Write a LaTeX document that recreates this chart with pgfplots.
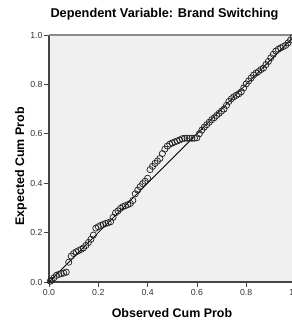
\documentclass[border=0pt]{standalone}
\usepackage{pgfplots}
\pgfplotsset{compat=1.18}
\usepackage{fontspec}
\setmainfont{Liberation Sans}
\definecolor{bgc}{HTML}{F0F0F0}
\definecolor{axc}{HTML}{444444}
\definecolor{topc}{HTML}{8A8A8A}
\definecolor{tickc}{HTML}{333333}
\begin{document}
\begin{tikzpicture}[x=1bp,y=1bp]
\begin{axis}[
  at={(49bp,40bp)}, anchor=south west,
  scale only axis, width=246.5bp, height=247bp,
  xmin=0, xmax=1, ymin=0, ymax=1,
  axis x line*=bottom, axis y line*=left,
  axis line style={axc, line width=1.2bp, -},
  axis background/.style={fill=bgc},
  xtick={0,0.2,0.4,0.6,0.8,1.0},
  ytick={0,0.2,0.4,0.6,0.8,1.0},
  xticklabels={0.0,0.2,0.4,0.6,0.8,1.0},
  yticklabels={0.0,0.2,0.4,0.6,0.8,1.0},
  tick align=outside, major tick length=5bp,
  tick style={axc, line width=0.8bp},
  /pgf/number format/assume math mode=true,
  tick label style={font=\fontsize{8.8}{10}\selectfont, text=tickc},
  xticklabel style={yshift=1bp},
  yticklabel style={xshift=2bp},
  clip=false,
]
\draw[topc, line width=1.2bp] (rel axis cs:0,1) -- (rel axis cs:1,1);
\addplot[black, line width=0.8bp, no marks] coordinates {(0,0) (1,1)};
\addplot[only marks, mark=o, mark size=3.1bp, mark options={black!88, line width=0.7bp}] coordinates {
(0.005,0.003) (0.01,0.007) (0.02,0.017) (0.03,0.027) (0.04,0.031) (0.05,0.034) (0.06,0.036) (0.07,0.040)
(0.08,0.080) (0.09,0.105) (0.10,0.115) (0.11,0.122) (0.12,0.127) (0.13,0.132) (0.14,0.138) (0.15,0.148)
(0.16,0.160) (0.17,0.173) (0.18,0.190) (0.19,0.218) (0.20,0.224) (0.21,0.229) (0.22,0.233) (0.23,0.237)
(0.24,0.240) (0.25,0.244) (0.26,0.262) (0.27,0.280) (0.28,0.288) (0.29,0.298) (0.30,0.305) (0.31,0.309)
(0.32,0.313) (0.33,0.318) (0.34,0.330) (0.35,0.357) (0.36,0.372) (0.37,0.386) (0.38,0.398) (0.39,0.408)
(0.40,0.420) (0.41,0.455) (0.42,0.468) (0.43,0.480) (0.44,0.490) (0.45,0.500) (0.46,0.520) (0.47,0.538)
(0.48,0.550) (0.49,0.558) (0.50,0.563) (0.51,0.567) (0.52,0.571) (0.53,0.575) (0.54,0.580) (0.55,0.582)
(0.56,0.582) (0.57,0.582) (0.58,0.582) (0.59,0.582) (0.60,0.584) (0.61,0.600) (0.62,0.615) (0.63,0.627)
(0.64,0.637) (0.65,0.647) (0.66,0.657) (0.67,0.665) (0.68,0.674) (0.69,0.683) (0.70,0.692) (0.71,0.700)
(0.72,0.715) (0.73,0.731) (0.74,0.742) (0.75,0.750) (0.76,0.756) (0.77,0.762) (0.78,0.770) (0.79,0.786)
(0.80,0.802) (0.81,0.814) (0.82,0.826) (0.83,0.838) (0.84,0.846) (0.85,0.852) (0.86,0.860) (0.87,0.866)
(0.88,0.880) (0.89,0.893) (0.90,0.908) (0.91,0.922) (0.92,0.935) (0.93,0.942) (0.94,0.948) (0.95,0.953)
(0.96,0.958) (0.97,0.968) (0.98,0.980) (0.99,0.990)
};
\end{axis}
\node[font=\bfseries\fontsize{12.8}{15}\selectfont, text=black] at (164.5bp,308bp) {Dependent Variable: Brand Switching};
\node[font=\bfseries\fontsize{12.5}{15}\selectfont, text=black] at (172bp,9bp) {Observed Cum Prob};
\node[font=\bfseries\fontsize{12.5}{15}\selectfont, text=black, rotate=90] at (21bp,155.5bp) {Expected Cum Prob};
\pgfresetboundingbox
\path[use as bounding box] (0,0) rectangle (292bp,322bp);
\end{tikzpicture}
\end{document}
